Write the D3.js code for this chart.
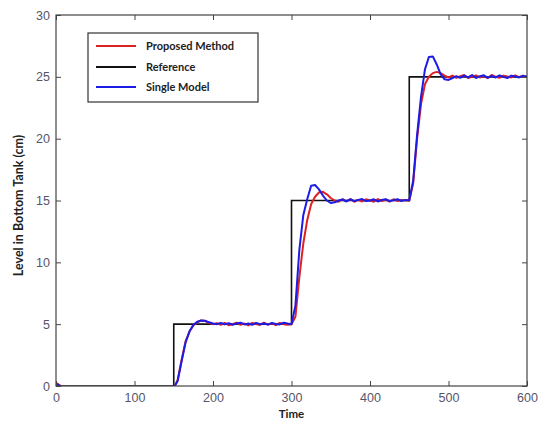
<!DOCTYPE html>
<html>
<head>
<meta charset="utf-8">
<script src="https://cdn.jsdelivr.net/npm/d3@7"></script>
<style>
  html, body { margin: 0; padding: 0; background: #fff; }
  svg { display: block; }
</style>
</head>
<body>
<div id="chart"></div>
<script>
// Sampling grid for the measured levels (seconds)
const timeStep = 5;
const times = d3.range(0, 601, timeStep);

// Reference set-point steps: [time, level]
const refTimes = [0, 150, 300, 450, 600];
const refLevels = [0, 5, 15, 25, 25];

// Proposed method: measured bottom tank level (cm)
const proposedLevels = [
  0.25, 0.05,
  -0.15, -0.15, -0.15, -0.15, -0.15, -0.15, -0.15, -0.15, -0.15, -0.15,
  -0.15, -0.15, -0.15, -0.15, -0.15, -0.15, -0.15, -0.15, -0.15, -0.15,
  -0.15, -0.15, -0.15, -0.15, -0.15, -0.15, -0.15, -0.15,
  -0.15, 0.5, 2.1, 3.6, 4.4, 4.9, 5.15, 5.3, 5.25, 5.1, 5.0,
  5.08, 4.95, 5.1, 4.92, 5.0, 5.12, 4.95, 5.05, 4.9, 5.1,
  5.02, 4.94, 5.12, 4.96, 5.06, 4.92, 5.1, 5.0, 4.95,
  5.0, 5.6, 8.8, 11.5, 13.4, 14.7, 15.3, 15.65, 15.7, 15.5, 15.2, 15.0,
  14.9, 15.1, 14.95, 15.12, 14.9, 15.05, 14.92, 15.1, 15.0,
  14.9, 15.12, 14.95, 15.08, 14.9, 15.1, 14.96, 15.05, 15.0,
  15.0, 16.4, 20.0, 22.8, 24.4, 25.0, 25.3, 25.4, 25.3, 25.1, 24.95,
  25.1, 24.92, 25.05, 25.15, 24.9, 25.0, 25.12, 24.95, 25.08, 24.9,
  25.15, 25.0, 24.92, 25.1, 25.02, 24.95, 25.12, 24.98, 25.05, 25.0
];

// Single model: measured bottom tank level (cm)
const singleModelLevels = [
  0.2, 0.0,
  -0.15, -0.15, -0.15, -0.15, -0.15, -0.15, -0.15, -0.15, -0.15, -0.15,
  -0.15, -0.15, -0.15, -0.15, -0.15, -0.15, -0.15, -0.15, -0.15, -0.15,
  -0.15, -0.15, -0.15, -0.15, -0.15, -0.15, -0.15, -0.15,
  -0.15, 0.4, 2.0, 3.5, 4.4, 4.95, 5.2, 5.3, 5.28, 5.15, 5.05,
  5.0, 5.1, 4.98, 5.08, 4.95, 5.05, 5.12, 4.98, 5.05, 4.95,
  5.1, 5.0, 5.06, 4.96, 5.1, 5.02, 4.98, 5.12, 5.05,
  5.0, 6.5, 11.0, 13.8, 15.1, 16.2, 16.25, 15.9, 15.4, 15.0, 14.8, 14.85,
  15.0, 15.08, 14.92, 15.1, 14.95, 15.05, 15.12, 14.95, 15.0,
  15.1, 14.92, 15.05, 15.1, 14.95, 15.02, 15.1, 14.96, 15.05,
  15.0, 16.6, 20.3, 23.4, 25.6, 26.6, 26.65, 26.0, 25.2, 24.8, 24.75,
  24.9, 25.05, 24.92, 25.1, 24.95, 25.15, 24.9, 25.05, 25.12, 24.92,
  25.08, 24.95, 25.12, 25.0, 24.9, 25.1, 25.02, 24.95, 25.1, 25.0
];

// Axis ticks
const xTicks = [0, 100, 200, 300, 400, 500, 600];
const yTicks = [0, 5, 10, 15, 20, 25, 30];

// Legend entries
const legendLabels = ["Proposed Method", "Reference", "Single Model"];
const legendColors = ["#dd2222", "#111111", "#1c1ce6"];

const width = 545, height = 423;
const margin = { left: 56, right: 18, top: 15, bottom: 37 };
const plotW = width - margin.left - margin.right;
const plotH = height - margin.top - margin.bottom;

const svg = d3.select("#chart").append("svg")
  .attr("width", width).attr("height", height);

const x = d3.scaleLinear().domain([0, 600]).range([0, plotW]);
const y = d3.scaleLinear().domain([0, 30]).range([plotH, 0]);

const g = svg.append("g").attr("transform", `translate(${margin.left},${margin.top})`);

g.append("clipPath").attr("id", "plotClip")
  .append("rect").attr("width", plotW).attr("height", plotH);

const lines = g.append("g").attr("clip-path", "url(#plotClip)");

const refData = refTimes.map((t, i) => [t, refLevels[i]]);
const stepLine = d3.line().x(d => x(d[0])).y(d => y(d[1])).curve(d3.curveStepAfter);
const plainLine = d3.line().x(d => x(d[0])).y(d => y(d[1]));

lines.append("path")
  .attr("d", stepLine(refData))
  .attr("fill", "none").attr("stroke", legendColors[1]).attr("stroke-width", 1.6);

lines.append("path")
  .attr("d", plainLine(times.map((t, i) => [t, proposedLevels[i]])))
  .attr("fill", "none").attr("stroke", legendColors[0]).attr("stroke-width", 2)
  .attr("stroke-linejoin", "round");

lines.append("path")
  .attr("d", plainLine(times.map((t, i) => [t, singleModelLevels[i]])))
  .attr("fill", "none").attr("stroke", legendColors[2]).attr("stroke-width", 2)
  .attr("stroke-linejoin", "round");

// Axes with inward ticks on all four sides
const tickColor = "#444";
const labelColor = "#55556a";
const tickFont = "'Liberation Sans', Arial, sans-serif";

const styleAxis = sel => {
  sel.select(".domain").remove();
  sel.selectAll(".tick line").attr("stroke", tickColor);
  sel.selectAll(".tick text").attr("fill", labelColor)
    .style("font-family", tickFont).style("font-size", "12.5px");
};

g.append("g").attr("transform", `translate(0,${plotH})`)
  .call(d3.axisBottom(x).tickValues(xTicks).tickSize(-5).tickPadding(7).tickFormat(d3.format("d")))
  .call(styleAxis);
g.append("g")
  .call(d3.axisTop(x).tickValues(xTicks).tickSize(-5).tickFormat(""))
  .call(styleAxis);
g.append("g")
  .call(d3.axisLeft(y).tickValues(yTicks).tickSize(-5).tickPadding(6).tickFormat(d3.format("d")))
  .call(styleAxis);
g.append("g").attr("transform", `translate(${plotW},0)`)
  .call(d3.axisRight(y).tickValues(yTicks).tickSize(-5).tickFormat(""))
  .call(styleAxis);

g.append("rect").attr("width", plotW).attr("height", plotH)
  .attr("fill", "none").attr("stroke", tickColor).attr("stroke-width", 1.2);

// Axis titles
const titleFont = "Lato, 'Open Sans', sans-serif";
svg.append("text")
  .attr("x", margin.left + plotW / 2).attr("y", 418)
  .attr("text-anchor", "middle")
  .style("font-family", titleFont).style("font-weight", "bold").style("font-size", "11.5px")
  .attr("fill", "#222").text("Time");

svg.append("text")
  .attr("transform", `translate(23,${margin.top + plotH / 2 + 5}) rotate(-90)`)
  .attr("text-anchor", "middle")
  .style("font-family", titleFont).style("font-weight", "bold").style("font-size", "12.5px")
  .attr("fill", "#222").text("Level in Bottom Tank (cm)");

// Legend
const legend = svg.append("g").attr("transform", "translate(88,33)");
legend.append("rect").attr("width", 170).attr("height", 69)
  .attr("fill", "#fff").attr("stroke", "#333").attr("stroke-width", 1.2);
const rowY = [13, 34, 54];
legendLabels.forEach((lab, i) => {
  legend.append("line")
    .attr("x1", 8).attr("x2", 48).attr("y1", rowY[i]).attr("y2", rowY[i])
    .attr("stroke", legendColors[i]).attr("stroke-width", 2);
  legend.append("text")
    .attr("x", 58).attr("y", rowY[i] + 4)
    .style("font-family", titleFont).style("font-weight", "bold").style("font-size", "11px")
    .attr("fill", "#222").text(lab);
});
</script>
</body>
</html>
